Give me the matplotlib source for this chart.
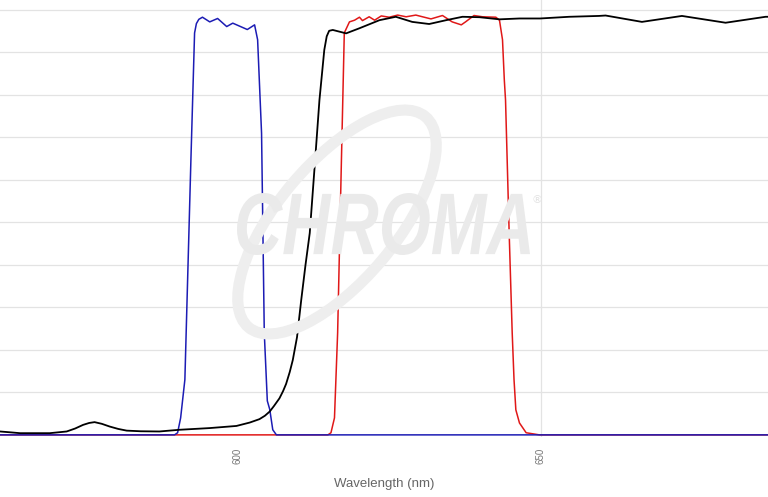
import matplotlib
matplotlib.use("Agg")
import matplotlib.pyplot as plt
from matplotlib.patches import Ellipse, PathPatch
from matplotlib.textpath import TextPath
from matplotlib.font_manager import FontProperties
from matplotlib.transforms import IdentityTransform, Affine2D

# blue filter (excitation)
blue_nm = [560.8, 589.6, 590.1, 590.6, 591.3, 592.3, 592.9, 593.2, 593.6, 594.2, 595.4, 596.7,
           598.2, 599.2, 601.6, 602.8, 603.3, 603.95, 604.4, 604.9, 605.3, 605.8, 606.4, 687.5]
blue_t = [0.0, 0.0, 0.5, 4.0, 13.0, 65.0, 94.6, 96.8, 97.8, 98.3, 97.2, 98.0,
          96.1, 96.9, 95.4, 96.5, 93.0, 71.0, 24.0, 8.0, 6.0, 1.2, 0.0, 0.0]

# red filter (emission)
red_nm = [560.8, 614.9, 615.4, 615.98, 616.5, 617.1, 617.6, 618.45, 619.3, 620.1, 620.6, 621.7,
          622.6, 623.7, 625.0, 626.4, 627.8, 629.4, 630.5, 631.9, 633.8, 635.4, 636.9, 637.6,
          639.0, 640.4, 642.6, 643.2, 643.7, 644.0, 644.2, 644.8, 645.3, 645.6, 645.9, 646.5,
          647.6, 649.8, 687.5]
red_t = [0.0, 0.0, 0.5, 4.0, 24.0, 63.0, 94.6, 97.2, 97.6, 98.3, 97.5, 98.4,
         97.6, 98.6, 98.3, 98.8, 98.4, 98.8, 98.4, 97.9, 98.7, 97.2, 96.5, 97.2,
         98.7, 98.4, 98.3, 97.6, 93.0, 83.5, 78.8, 47.5, 24.0, 13.0, 5.9, 2.8,
         0.5, 0.0, 0.0]

# dichroic mirror
mirror_nm = [560.8, 562.5, 564.1, 569.0, 571.8, 573.2, 574.5, 575.5, 576.4, 577.6, 578.9,
             580.3, 581.7, 584.0, 587.1, 590.4, 595.4, 599.8, 602.0, 603.6, 604.5, 605.3,
             606.0, 606.9, 607.5, 608.0, 608.6, 609.1, 609.8, 610.5, 611.2, 611.9, 612.7,
             613.5, 614.3, 614.7, 615.1, 615.7, 616.8, 617.9, 620.1, 623.4, 626.1, 628.8,
             631.6, 634.4, 637.1, 639.9, 643.2, 646.5, 649.9, 654.7, 659.6, 660.7, 666.7,
             673.3, 680.5, 687.1, 687.5]
mirror_t = [0.8, 0.6, 0.4, 0.4, 0.8, 1.5, 2.35, 2.8, 3.0, 2.6, 1.96,
            1.4, 1.0, 0.85, 0.8, 1.2, 1.6, 2.1, 2.9, 3.7, 4.5, 5.5,
            6.8, 8.6, 10.3, 12.0, 14.8, 17.6, 23.0, 31.8, 40.0, 47.5, 63.0,
            78.8, 90.6, 93.8, 95.1, 95.3, 94.9, 94.5, 95.7, 97.6, 98.4, 97.2,
            96.7, 97.6, 98.4, 98.3, 97.8, 98.0, 98.0, 98.4, 98.6, 98.7, 97.2,
            98.6, 97.0, 98.4, 98.4]

xticks = [600, 650]
grid_y = [0, 10, 20, 30, 40, 50, 60, 70, 80, 90, 100]

fig = plt.figure(figsize=(7.68, 4.97), dpi=100)
ax = fig.add_axes([0, 60 / 497, 1, 1 - 60 / 497])
ax.set_xlim(560.8, 687.5)
ax.set_ylim(-0.5, 102.35)

for g in grid_y[1:]:
    ax.axhline(g, color="#e3e3e3", lw=0.9, zorder=0)
ax.axvline(650, color="#e3e3e3", lw=0.9, zorder=0)

# watermark (pixel coordinates, origin bottom-left)
fig.add_artist(Ellipse((337, 275), 275, 118, angle=50, fill=False, ec="#eeeeee", lw=8,
                       transform=IdentityTransform(), zorder=0.5))
tp = TextPath((0, 0), "CHROMA", size=100,
              prop=FontProperties(family="Liberation Sans", weight="bold", style="italic"))
bb = tp.get_extents()
sx = 293 / bb.width
sy = 62 / bb.height
tr = Affine2D().translate(-bb.x0, -bb.y0).scale(sx, sy).translate(237, 497 - 255)
fig.add_artist(PathPatch(tr.transform_path(tp), fc="#eaeaea", ec="none",
                         transform=IdentityTransform(), zorder=0.6))
fig.text(537 / 768, 297 / 497, "®", ha="center", va="center", fontsize=8, color="#e3e3e3")

ax.plot(red_nm, red_t, color="#e01818", lw=1.1, zorder=3)
ax.plot(blue_nm, blue_t, color="#1c1cb4", lw=1.1, zorder=4)
ax.plot(mirror_nm, mirror_t, color="#000000", lw=1.3, zorder=5)

for s in ax.spines.values():
    s.set_visible(False)
ax.set_yticks([])
ax.set_xticks(xticks)
ax.set_xticklabels([str(v) for v in xticks], rotation=90, fontsize=7, color="#777777",
                   family="Liberation Sans")
ax.tick_params(axis="x", length=0, pad=8)
ax.set_xlabel("Wavelength (nm)", fontsize=9.5, color="#666666", family="Liberation Sans",
              labelpad=10)

fig.savefig("out.png", dpi=100)
